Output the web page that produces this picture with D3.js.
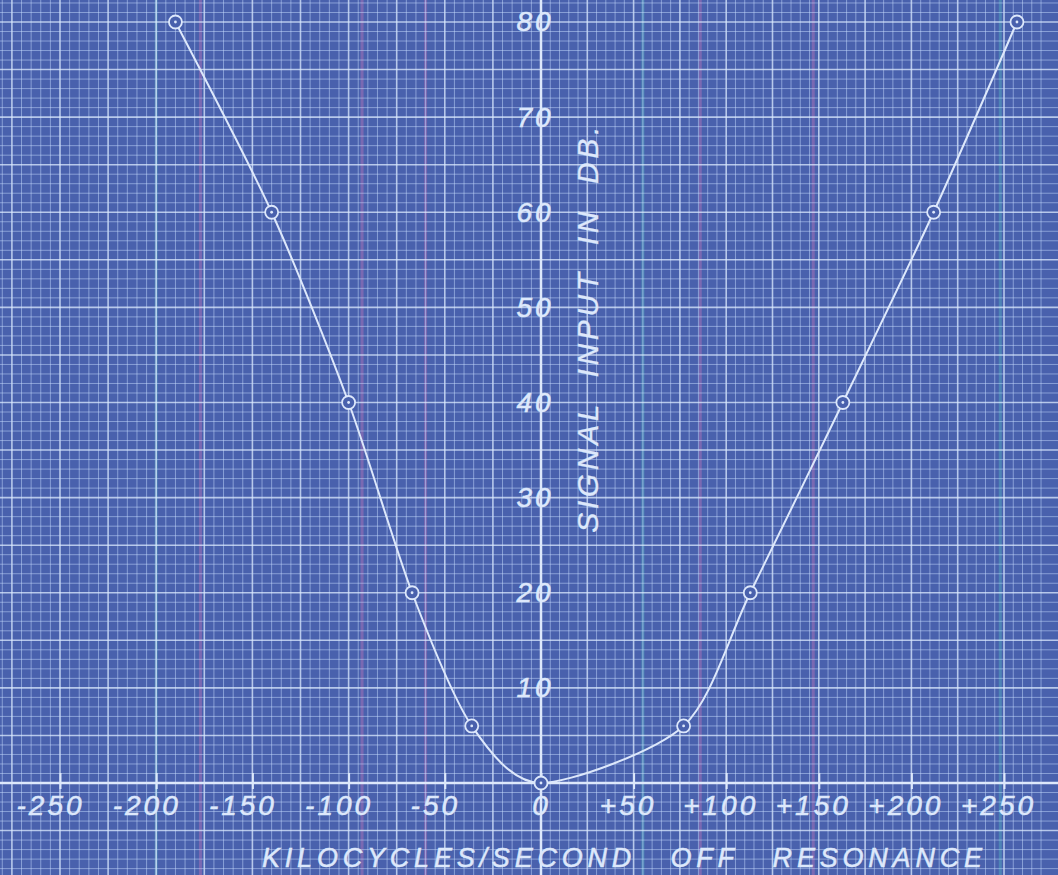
<!DOCTYPE html>
<html>
<head>
<meta charset="utf-8">
<script src="https://cdn.jsdelivr.net/npm/d3@7"></script>
<style>
  body { margin: 0; background: #4a62ad; }
  svg { display: block; }
  text { font-family: "Liberation Sans", "DejaVu Sans", sans-serif; font-style: italic; }
</style>
</head>
<body>
<div id="canvas"></div>
<script>
"use strict"

let kcOff = [-190, -140, -100, -67, -36, 0, 77, 113, 163, 212, 257]
let signalDb = [80, 60, 40, 20, 6, 0, 6, 20, 40, 60, 80]

let xTickValues = [-250, -200, -150, -100, -50, 0, 50, 100, 150, 200, 250]
let xTickLabels = ["-250", "-200", "-150", "-100", "-50", "0", "+50", "+100", "+150", "+200", "+250"]
let yTickValues = [10, 20, 30, 40, 50, 60, 70, 80]

// tinted streaks in the scanned paper (kc position)
let pinkStreaks = [-177, -93, -60, 86, 147]
let tealStreaks = [-200, 55, 248]

let width = 1058
let height = 875
let ink = "#dde8fb"
let paper = "#4961ad"

let drawing = d3.select("#canvas")
    .append("svg")
    .attr("width", width)
    .attr("height", height)

// the hand drawn scale is a bit stretched on the left side
let x = d3.scaleLinear()
    .domain([-250, 0, 250])
    .range([60, 541, 1004])

let y = d3.scaleLinear()
    .domain([0, 80])
    .range([783, 22])

// paper
drawing.append("rect")
    .attr("width", width)
    .attr("height", height)
    .attr("fill", paper)

drawing.append("g")
    .selectAll("line")
    .data(pinkStreaks)
    .join("line")
    .attr("x1", d => x(d))
    .attr("x2", d => x(d))
    .attr("y1", 0)
    .attr("y2", height)
    .attr("stroke", "rgba(215,120,190,0.35)")
    .attr("stroke-width", 3)

drawing.append("g")
    .selectAll("line")
    .data(tealStreaks)
    .join("line")
    .attr("x1", d => x(d))
    .attr("x2", d => x(d))
    .attr("y1", 0)
    .attr("y2", height)
    .attr("stroke", "rgba(90,200,200,0.35)")
    .attr("stroke-width", 3)

// grid paper: fine line every 5 kc / 1 db, heavy line every 25 kc / 5 db
let gridX = d3.range(-285, 271, 5)
let gridY = d3.range(-10, 84, 1)

drawing.append("g")
    .selectAll("line")
    .data(gridX)
    .join("line")
    .attr("x1", d => x(d))
    .attr("x2", d => x(d))
    .attr("y1", 0)
    .attr("y2", height)
    .attr("stroke", d => d % 25 === 0 ? "rgba(220,235,255,0.75)" : "rgba(200,222,255,0.5)")
    .attr("stroke-width", d => d % 25 === 0 ? 1.6 : 1)

drawing.append("g")
    .selectAll("line")
    .data(gridY)
    .join("line")
    .attr("x1", 0)
    .attr("x2", width)
    .attr("y1", d => y(d))
    .attr("y2", d => y(d))
    .attr("stroke", d => d % 5 === 0 ? "rgba(220,235,255,0.75)" : "rgba(200,222,255,0.5)")
    .attr("stroke-width", d => d % 5 === 0 ? 1.6 : 1)

// main axes, drawn across the whole sheet
let xAxisLine = drawing.append("line")
    .attr("x1", 0)
    .attr("x2", width)
    .attr("y1", y(0))
    .attr("y2", y(0))
    .attr("stroke", ink)
    .attr("stroke-width", 2.5)

let yAxisLine = drawing.append("line")
    .attr("x1", x(0))
    .attr("x2", x(0))
    .attr("y1", 0)
    .attr("y2", height)
    .attr("stroke", ink)
    .attr("stroke-width", 2.5)

// x axis ticks + labels
let xAxis = drawing.append("g")
    .attr("transform", "translate(0," + y(0) + ")")
    .call(d3.axisBottom(x)
        .tickValues(xTickValues)
        .tickFormat((d, i) => xTickLabels[i])
        .tickSize(-10)
        .tickPadding(12))

xAxis.select(".domain").remove()
xAxis.selectAll(".tick line")
    .attr("stroke", ink)
    .attr("stroke-width", 2)
    .attr("y2", -10)
    .attr("y1", 6)
xAxis.selectAll(".tick text")
    .attr("fill", ink)
    .attr("stroke", ink)
    .attr("stroke-width", 0.5)
    .attr("font-size", 28)
    .attr("letter-spacing", 3)
    .attr("dx", d => d < 0 ? -10 : (d > 0 ? -6 : 0))

// y axis labels, written across the axis
let yAxis = drawing.append("g")
    .attr("transform", "translate(" + x(0) + ",0)")
    .call(d3.axisLeft(y)
        .tickValues(yTickValues)
        .tickSize(0))

yAxis.select(".domain").remove()
yAxis.selectAll(".tick text")
    .attr("fill", ink)
    .attr("stroke", ink)
    .attr("stroke-width", 0.5)
    .attr("font-size", 28)
    .attr("letter-spacing", 3)
    .attr("text-anchor", "middle")
    .attr("x", -6)

// axis titles
drawing.append("text")
    .attr("transform", "translate(598," + ((y(69) + y(26.3)) / 2) + ") rotate(-90)")
    .attr("text-anchor", "middle")
    .attr("fill", ink)
    .attr("stroke", ink)
    .attr("stroke-width", 0.3)
    .attr("font-size", 30)
    .attr("word-spacing", 12)
    .attr("textLength", y(26.3) - y(69))
    .attr("lengthAdjust", "spacing")
    .text("SIGNAL INPUT IN DB.")

drawing.append("text")
    .attr("x", 262)
    .attr("y", 867)
    .attr("fill", ink)
    .attr("stroke", ink)
    .attr("stroke-width", 0.5)
    .attr("font-size", 27)
    .attr("word-spacing", 22)
    .attr("textLength", 720)
    .attr("lengthAdjust", "spacing")
    .text("KILOCYCLES/SECOND OFF RESONANCE")

// the curve, drawn like a french curve through the points
let points = kcOff.map((k, i) => [k, signalDb[i]])

let curve = d3.line()
    .x(d => x(d[0]))
    .y(d => y(d[1]))
    .curve(d3.curveCardinal.tension(0.2))

drawing.append("path")
    .attr("d", curve(points))
    .attr("fill", "none")
    .attr("stroke", ink)
    .attr("stroke-width", 2)

// plotted points: small circle with a dot
let marks = drawing.append("g")
    .selectAll("g")
    .data(points)
    .join("g")
    .attr("transform", d => "translate(" + x(d[0]) + "," + y(d[1]) + ")")

marks.append("circle")
    .attr("r", 6.5)
    .attr("fill", paper)
    .attr("stroke", ink)
    .attr("stroke-width", 1.8)

marks.append("circle")
    .attr("r", 1.4)
    .attr("fill", ink)
</script>
</body>
</html>
